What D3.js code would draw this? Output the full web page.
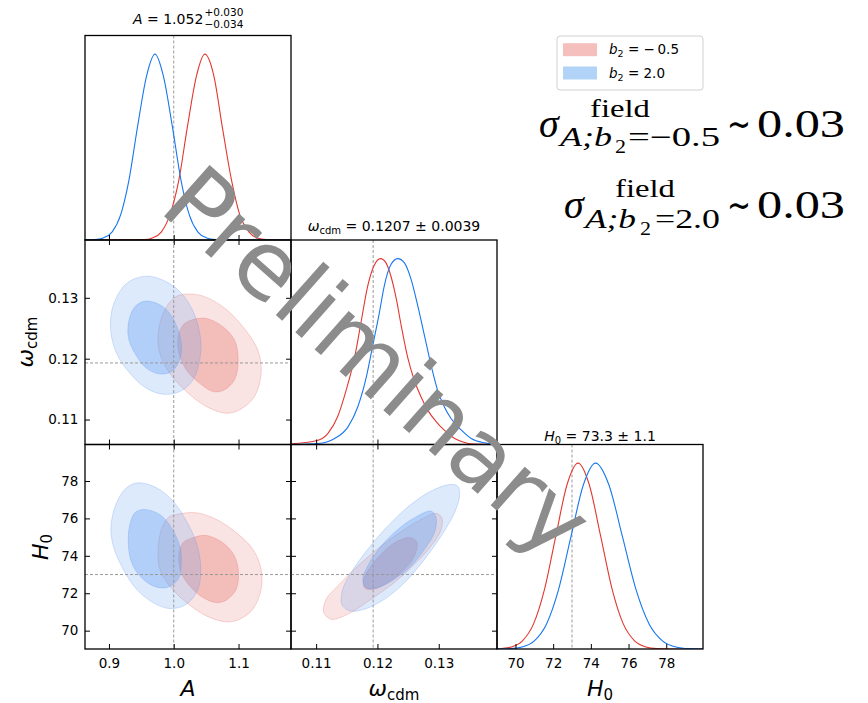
<!DOCTYPE html>
<html>
<head>
<meta charset="utf-8">
<script src="https://cdn.jsdelivr.net/npm/d3@7"></script>
<style>
body { margin: 0; background: #fff; }
svg { font-family: "DejaVu Sans", sans-serif; }
</style>
</head>
<body>
<svg id="tri" width="868" height="703"></svg>
<script>
// --- dati ---
var markers = [1.0, 0.1193, 73.0];
var limA = [0.863, 1.181];
var limW = [0.1059, 0.1395];
var limH = [69.02, 79.95];
var ticksA = [0.9, 1.0, 1.1];
var ticksW = [0.11, 0.12, 0.13];
var ticksH = [70, 72, 74, 76, 78];
var legendLabels = ["\u2212\u20090.5", "2.0"];

// 1D (x, densita' normalizzata)
var aRed = [[0.863,0],[0.935,0.001],[0.954,0.002],[0.967,0.011],[0.981,0.044],[0.994,0.135],[1.008,0.325],[1.021,0.607],[1.035,0.882],[1.048,1],[1.062,0.882],[1.075,0.607],[1.089,0.325],[1.102,0.135],[1.116,0.044],[1.129,0.011],[1.143,0.002],[1.16,0],[1.181,0]];
var aBlue = [[0.863,0],[0.878,0.002],[0.891,0.011],[0.905,0.044],[0.918,0.135],[0.931,0.325],[0.944,0.607],[0.958,0.882],[0.971,1],[0.984,0.882],[0.998,0.607],[1.011,0.325],[1.024,0.135],[1.037,0.044],[1.051,0.011],[1.064,0.002],[1.08,0],[1.181,0]];
var wRed = [[0.1059,0.004],[0.1100,0.02],[0.1119,0.059],[0.1135,0.149],[0.1149,0.293],[0.1163,0.473],[0.1173,0.653],[0.1184,0.851],[0.1194,0.959],[0.1205,1],[0.1214,0.977],[0.1222,0.905],[0.1231,0.779],[0.1239,0.635],[0.1249,0.473],[0.1260,0.347],[0.1271,0.257],[0.1282,0.185],[0.1296,0.122],[0.1309,0.077],[0.1326,0.032],[0.1342,0.011],[0.1358,0.002],[0.1395,0]];
var wBlue = [[0.1059,0],[0.1103,0.005],[0.1130,0.032],[0.1152,0.095],[0.1168,0.203],[0.1182,0.365],[0.1192,0.527],[0.1203,0.707],[0.1211,0.851],[0.1222,0.968],[0.1233,1],[0.1244,0.977],[0.1255,0.887],[0.1266,0.743],[0.1277,0.581],[0.1288,0.419],[0.1298,0.293],[0.1309,0.203],[0.1320,0.140],[0.1337,0.077],[0.1353,0.032],[0.1375,0.009],[0.1395,0.002]];
var hRed = [[69.02,0],[69.19,0.002],[69.78,0.011],[70.37,0.044],[70.96,0.135],[71.55,0.325],[72.14,0.607],[72.73,0.882],[73.32,1],[73.92,0.882],[74.52,0.607],[75.12,0.325],[75.72,0.135],[76.32,0.044],[76.92,0.011],[77.5,0.002],[78.2,0],[79.95,0]];
var hBlue = [[69.02,0],[69.7,0.002],[70.35,0.011],[71.0,0.044],[71.65,0.135],[72.3,0.325],[72.95,0.607],[73.6,0.882],[74.25,1],[74.96,0.882],[75.67,0.607],[76.38,0.325],[77.09,0.135],[77.8,0.044],[78.51,0.011],[79.22,0.002],[79.95,0]];

// contorni 2D (68% e 95%)
var awRed95 = [[1.0092,0.13044],[1.0400,0.13044],[1.0759,0.12853],[1.1067,0.12525],[1.1297,0.12143],[1.1349,0.11760],[1.1246,0.11378],[1.1015,0.11159],[1.0810,0.11104],[1.0503,0.11214],[1.0195,0.11460],[0.9938,0.11760],[0.9785,0.12088],[0.9759,0.12389],[0.9836,0.12744],[0.9964,0.12962]];
var awRed68 = [[1.0272,0.12634],[1.0503,0.12662],[1.0759,0.12525],[1.0938,0.12307],[1.0995,0.11979],[1.0938,0.11651],[1.0759,0.11476],[1.0605,0.11460],[1.0400,0.11596],[1.0195,0.11815],[1.0082,0.12088],[1.0067,0.12361],[1.0144,0.12552]];
var awBlue95 = [[0.9579,0.13356],[0.9887,0.13263],[1.0144,0.13044],[1.0323,0.12716],[1.0415,0.12307],[1.0400,0.11979],[1.0297,0.11651],[1.0092,0.11460],[0.9836,0.11416],[0.9579,0.11514],[0.9323,0.11760],[0.9118,0.12088],[0.9026,0.12470],[0.9067,0.12880],[0.9272,0.13236]];
var awBlue68 = [[0.9579,0.12946],[0.9836,0.12853],[1.0015,0.12607],[1.0118,0.12252],[1.0092,0.11979],[0.9964,0.11787],[0.9785,0.11749],[0.9579,0.11842],[0.9400,0.12088],[0.9297,0.12361],[0.9323,0.12689],[0.9426,0.12880]];

var ahRed95 = [[1.0041,76.21],[1.0349,76.30],[1.0656,75.95],[1.0964,75.24],[1.1221,74.35],[1.1349,73.28],[1.1349,72.21],[1.1221,71.15],[1.1015,70.61],[1.0810,70.47],[1.0503,70.79],[1.0195,71.50],[0.9938,72.39],[0.9785,73.28],[0.9759,74.35],[0.9810,75.41],[0.9913,76.04]];
var ahRed68 = [[1.0297,74.97],[1.0503,75.09],[1.0759,74.70],[1.0938,73.99],[1.1000,73.10],[1.0964,72.21],[1.0810,71.63],[1.0656,71.50],[1.0451,71.77],[1.0246,72.39],[1.0118,73.10],[1.0077,73.99],[1.0144,74.70]];
var ahBlue95 = [[0.9451,77.90],[0.9733,77.64],[0.9990,76.92],[1.0195,75.86],[1.0349,74.70],[1.0415,73.46],[1.0374,72.21],[1.0195,71.41],[0.9938,71.18],[0.9682,71.50],[0.9426,72.21],[0.9221,73.28],[0.9067,74.52],[0.9031,75.59],[0.9118,76.84],[0.9272,77.64]];
var ahBlue68 = [[0.9528,76.48],[0.9785,76.21],[0.9964,75.50],[1.0092,74.52],[1.0118,73.64],[1.0067,72.75],[0.9887,72.30],[0.9682,72.39],[0.9477,72.92],[0.9349,73.64],[0.9297,74.70],[0.9323,75.68],[0.9400,76.30]];

var whRed95 = [[0.12957,76.27],[0.13049,76.04],[0.13039,75.41],[0.12875,74.52],[0.12604,73.55],[0.12277,72.57],[0.11897,71.68],[0.11516,70.88],[0.11244,70.61],[0.11125,70.97],[0.11163,71.68],[0.11353,72.39],[0.11679,73.46],[0.12060,74.52],[0.12441,75.41],[0.12767,76.04]];
var whRed68 = [[0.12549,74.97],[0.12647,74.70],[0.12604,73.99],[0.12441,73.28],[0.12168,72.57],[0.11924,72.21],[0.11788,72.30],[0.11777,72.75],[0.11897,73.46],[0.12114,74.26],[0.12332,74.79]];
var whBlue95 = [[0.13175,77.81],[0.13311,77.72],[0.13338,77.19],[0.13256,76.30],[0.13039,75.06],[0.12767,73.81],[0.12441,72.57],[0.12114,71.68],[0.11788,71.15],[0.11543,71.06],[0.11418,71.41],[0.11434,72.21],[0.11570,73.10],[0.11842,74.35],[0.12168,75.59],[0.12549,76.75],[0.12875,77.46]];
var whBlue68 = [[0.12875,76.39],[0.12957,76.04],[0.12930,75.24],[0.12767,74.35],[0.12549,73.46],[0.12277,72.75],[0.12005,72.30],[0.11815,72.30],[0.11761,72.75],[0.11842,73.46],[0.12060,74.52],[0.12332,75.41],[0.12604,76.04]];

// --- layout ---
var svg = d3.select("#tri");
var colX = [85, 291, 497, 703];
var rowY = [35.5, 240, 444.5, 649];
var lims = [limA, limW, limH];
var ticks = [ticksA, ticksW, ticksH];
var fmts = [d3.format(".1f"), d3.format(".2f"), d3.format("d")];
var lineColors = ["#e3372e", "#1677f0"];
var fill95 = ["rgba(230,120,115,0.2)", "rgba(100,160,240,0.22)"];
var fill68 = ["rgba(230,120,115,0.36)", "rgba(100,160,240,0.36)"];
var edge = ["rgba(225,110,105,0.35)", "rgba(90,150,235,0.35)"];
var defs = svg.append("defs");

function xs(c) { return d3.scaleLinear().domain(lims[c]).range([colX[c], colX[c+1]]); }
function ys(r) { return d3.scaleLinear().domain(lims[r]).range([rowY[r+1], rowY[r]]); }

function clipFor(r, c) {
	var id = "clip" + r + c;
	defs.append("clipPath").attr("id", id).append("rect")
		.attr("x", colX[c]).attr("y", rowY[r])
		.attr("width", colX[c+1] - colX[c]).attr("height", rowY[r+1] - rowY[r]);
	return "url(#" + id + ")";
}

function dashed(g, x1, y1, x2, y2) {
	g.append("line").attr("x1", x1).attr("y1", y1).attr("x2", x2).attr("y2", y2)
		.attr("stroke", "#9a9a9a").attr("stroke-width", 1).attr("stroke-dasharray", "3,2");
}

function frame(r, c) {
	svg.append("rect").attr("x", colX[c]).attr("y", rowY[r])
		.attr("width", colX[c+1] - colX[c]).attr("height", rowY[r+1] - rowY[r])
		.attr("fill", "none").attr("stroke", "#000").attr("stroke-width", 1.3);
}

function styleAxis(g) {
	g.select(".domain").remove();
	g.attr("font-family", "DejaVu Sans").attr("font-size", 13.5);
	g.selectAll("line").attr("stroke", "#000").attr("stroke-width", 1);
	g.selectAll("text").attr("fill", "#000");
}

function xTicks(r, c, withLabels, top) {
	var ax = (top ? d3.axisTop(xs(c)) : d3.axisBottom(xs(c)))
		.tickValues(ticks[c]).tickSize(-5).tickPadding(9)
		.tickFormat(withLabels ? fmts[c] : "");
	svg.append("g").attr("transform", "translate(0," + (top ? rowY[r] : rowY[r+1]) + ")")
		.call(ax).call(styleAxis);
}

function yTicks(r, c, withLabels, right) {
	var ax = (right ? d3.axisRight(ys(r)) : d3.axisLeft(ys(r)))
		.tickValues(ticks[r]).tickSize(-5).tickPadding(6.7)
		.tickFormat(withLabels ? fmts[r] : "");
	svg.append("g").attr("transform", "translate(" + (right ? colX[c+1] : colX[c]) + ",0)")
		.call(ax).call(styleAxis);
}

// pannelli 1D sulla diagonale
var curves1D = [[aRed, aBlue], [wRed, wBlue], [hRed, hBlue]];
curves1D.forEach(function(pair, i) {
	var x = xs(i);
	var y = d3.scaleLinear().domain([0, 1.1]).range([rowY[i+1], rowY[i]]);
	var g = svg.append("g").attr("clip-path", clipFor(i, i));
	dashed(g, x(markers[i]), rowY[i], x(markers[i]), rowY[i+1]);
	var line = d3.line().x(function(d) { return x(d[0]); }).y(function(d) { return y(d[1]); })
		.curve(d3.curveMonotoneX);
	pair.forEach(function(c, k) {
		g.append("path").attr("d", line(c)).attr("fill", "none")
			.attr("stroke", lineColors[k]).attr("stroke-width", 1.1);
	});
	frame(i, i);
	xTicks(i, i, i == 2, false);
});

// pannelli 2D
var panels2D = [
	{r: 1, c: 0, sets: [[awRed95, awRed68], [awBlue95, awBlue68]]},
	{r: 2, c: 0, sets: [[ahRed95, ahRed68], [ahBlue95, ahBlue68]]},
	{r: 2, c: 1, sets: [[whRed95, whRed68], [whBlue95, whBlue68]]}
];
panels2D.forEach(function(p) {
	var x = xs(p.c), y = ys(p.r);
	var g = svg.append("g").attr("clip-path", clipFor(p.r, p.c));
	var shape = d3.line().x(function(d) { return x(d[0]); }).y(function(d) { return y(d[1]); })
		.curve(d3.curveCatmullRomClosed.alpha(0.5));
	p.sets.forEach(function(s, k) {
		g.append("path").attr("d", shape(s[0])).attr("fill", fill95[k])
			.attr("stroke", edge[k]).attr("stroke-width", 0.8);
		g.append("path").attr("d", shape(s[1])).attr("fill", fill68[k])
			.attr("stroke", edge[k]).attr("stroke-width", 0.8);
	});
	dashed(g, x(markers[p.c]), rowY[p.r], x(markers[p.c]), rowY[p.r+1]);
	dashed(g, colX[p.c], y(markers[p.r]), colX[p.c+1], y(markers[p.r]));
	frame(p.r, p.c);
	xTicks(p.r, p.c, p.r == 2, false);
	xTicks(p.r, p.c, false, true);
	yTicks(p.r, p.c, p.c == 0, false);
	yTicks(p.r, p.c, false, true);
});

// titoli dei pannelli 1D
var tA = svg.append("text").attr("x", 203.3).attr("y", 24).attr("text-anchor", "end").attr("font-size", 14);
tA.append("tspan").attr("font-style", "italic").text("A");
tA.append("tspan").text(" = 1.052");
svg.append("text").attr("x", 204.5).attr("y", 16).attr("font-size", 10.5).text("+0.030");
svg.append("text").attr("x", 204.5).attr("y", 28).attr("font-size", 10.5).text("\u22120.034");

var tW = svg.append("text").attr("x", 394).attr("y", 231).attr("text-anchor", "middle").attr("font-size", 14);
tW.append("tspan").attr("font-style", "italic").text("\u03c9");
tW.append("tspan").attr("font-size", 10).attr("dy", 3).text("cdm");
tW.append("tspan").attr("dy", -3).text(" = 0.1207 \u00b1 0.0039");

var tH = svg.append("text").attr("x", 600).attr("y", 441).attr("text-anchor", "middle").attr("font-size", 14);
tH.append("tspan").attr("font-style", "italic").text("H");
tH.append("tspan").attr("font-size", 10).attr("dy", 3).text("0");
tH.append("tspan").attr("dy", -3).text(" = 73.3 \u00b1 1.1");

// etichette degli assi
function axisLabel(x, y, rot, main, sub) {
	var t = svg.append("text").attr("transform", "translate(" + x + "," + y + ") rotate(" + rot + ")")
		.attr("text-anchor", "middle").attr("font-size", 22);
	t.append("tspan").attr("font-style", "italic").text(main);
	if (sub) t.append("tspan").attr("font-size", 15).attr("dy", 4).text(sub);
}
axisLabel(188, 696, 0, "A");
axisLabel(394, 696, 0, "\u03c9", "cdm");
axisLabel(600, 696, 0, "H", "0");
axisLabel(33, 342, -90, "\u03c9", "cdm");
axisLabel(48, 547, -90, "H", "0");

// legenda
var leg = svg.append("g");
leg.append("rect").attr("x", 557).attr("y", 36).attr("width", 146).attr("height", 54).attr("rx", 3)
	.attr("fill", "#fff").attr("stroke", "#d0d0d0").attr("stroke-width", 1);
var legFill = ["#f4bfbc", "#b1d3f7"];
legendLabels.forEach(function(lab, k) {
	var cy = 49.7 + k * 23.3;
	leg.append("rect").attr("x", 563).attr("y", cy - 6.5).attr("width", 34).attr("height", 13).attr("fill", legFill[k]);
	var t = leg.append("text").attr("x", 609).attr("y", cy + 4.5).attr("font-size", 13.5);
	t.append("tspan").attr("font-style", "italic").text("b");
	t.append("tspan").attr("font-size", 9.5).attr("dy", 3).text("2");
	t.append("tspan").attr("dy", -3).text(" = " + lab);
});

// annotazioni sigma (stile LaTeX)
var annot = [
	{t: "\u03c3", x: 539, y: 136.7, s: 40, it: true},
	{t: "field", x: 590, y: 116.7, s: 26, w: 60},
	{t: "A;b", x: 560, y: 146, s: 27, it: true, w: 52},
	{t: "2", x: 615, y: 153, s: 19, w: 11},
	{t: "=\u22120.5", x: 628, y: 146, s: 27, w: 92},
	{t: "\u223c", x: 727, y: 136.7, s: 38, w: 24},
	{t: "0.03", x: 757, y: 136.7, s: 40, w: 88},
	{t: "\u03c3", x: 564, y: 218.3, s: 40, it: true},
	{t: "field", x: 615, y: 197, s: 26, w: 60},
	{t: "A;b", x: 585, y: 227.6, s: 27, it: true, w: 51},
	{t: "2", x: 640, y: 234.6, s: 19, w: 11},
	{t: "=2.0", x: 655, y: 227.6, s: 27, w: 65},
	{t: "\u223c", x: 727, y: 218.3, s: 38, w: 24},
	{t: "0.03", x: 757, y: 218.3, s: 40, w: 88}
];
annot.forEach(function(a) {
	var t = svg.append("text").attr("x", a.x).attr("y", a.y)
		.attr("font-family", "Liberation Serif, serif").attr("font-size", a.s)
		.attr("font-style", a.it ? "italic" : "normal").text(a.t);
	if (a.w) t.attr("textLength", a.w).attr("lengthAdjust", "spacingAndGlyphs");
});

// filigrana
svg.append("text").attr("transform", "translate(356,386) rotate(41.5)")
	.attr("text-anchor", "middle").attr("font-size", 94).attr("fill", "#8c8c8c")
	.text("Preliminary");
</script>
</body>
</html>
